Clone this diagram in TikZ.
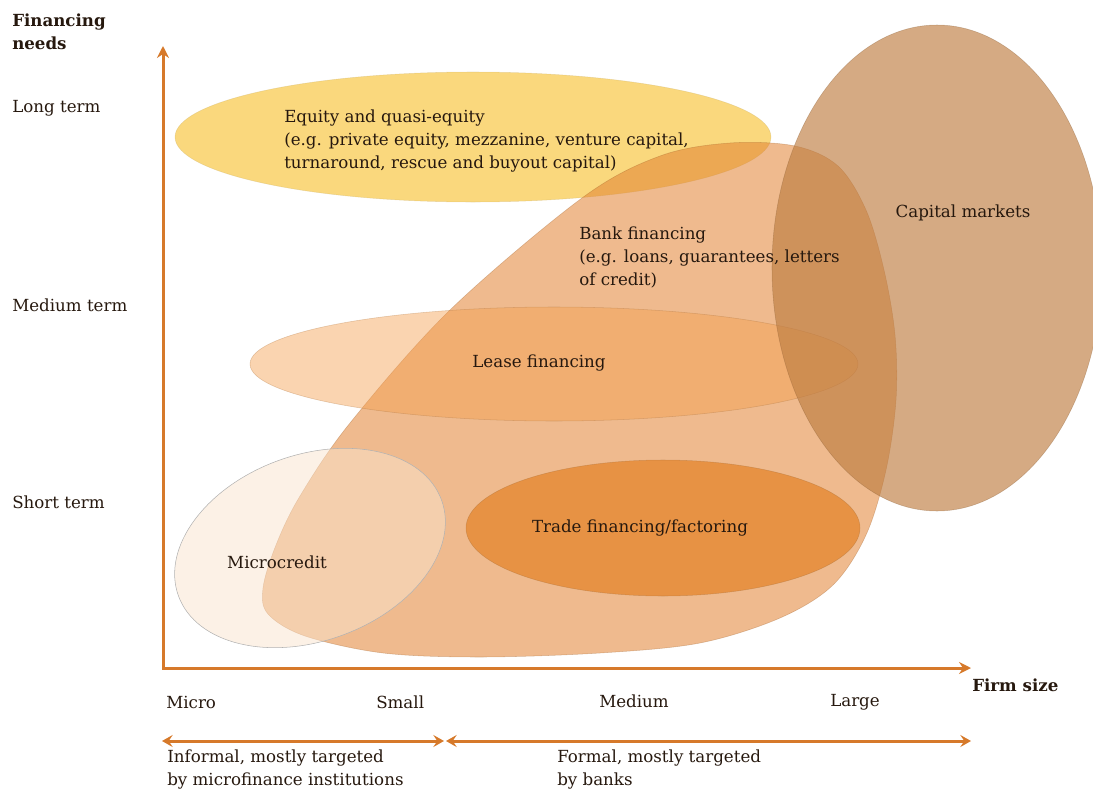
\documentclass[tikz,border=0pt]{standalone}
\usepackage{fontspec}
\setmainfont{DejaVu Serif}
\usetikzlibrary{arrows.meta}
\definecolor{axiscol}{RGB}{214,121,42}
\definecolor{equitycol}{RGB}{250,216,125}
\definecolor{bankcol}{RGB}{225,130,50}
\definecolor{leasecol}{RGB}{245,160,80}
\definecolor{tradecol}{RGB}{231,146,68}
\definecolor{capcol}{RGB}{190,125,65}
\definecolor{microcol}{RGB}{250,228,205}
\definecolor{txtcol}{RGB}{38,24,14}
\tikzset{
  lbl/.style={font=\fontsize{12.5}{17.25}\selectfont, text=txtcol, inner sep=0pt},
  blbl/.style={lbl, font=\fontsize{12.5}{17.25}\selectfont\bfseries},
  axisline/.style={draw=axiscol, line width=2.25pt, {Stealth[length=9pt,width=9pt,inset=3pt]}-{Stealth[length=9pt,width=9pt,inset=3pt]}},
  rangearrow/.style={draw=axiscol, line width=2.25pt, {Stealth[length=8pt,width=9pt,inset=3pt]}-{Stealth[length=8pt,width=9pt,inset=3pt]}},
  edge/.style={line width=0.4pt, draw opacity=0.35},
}
\begin{document}
\begin{tikzpicture}[x=0.75pt,y=-0.75pt]
\useasboundingbox (0,0) rectangle (1093,789);
% shapes
\filldraw[fill=equitycol, draw=equitycol!80!black, edge] (473,137) ellipse [x radius=298, y radius=65];
\filldraw[fill=bankcol, fill opacity=0.55, draw=bankcol!70!black, edge]
  plot[smooth cycle, tension=0.55] coordinates {(730,143) (795,146) (838,166) (866,210) (884,270) (895,335) (896,400) (886,470) (866,535) (833,585) (780,618) (700,643) (600,653) (480,657) (383,653) (305,636) (268,614) (263,588) (276,545) (300,496) (350,423) (450,310) (582,198) (660,156)};
\filldraw[fill=leasecol, fill opacity=0.45, draw=leasecol!70!black, edge] (554,364) ellipse [x radius=304, y radius=57];
\filldraw[fill=tradecol, draw=tradecol!70!black, edge] (663,528) ellipse [x radius=197, y radius=68];
\filldraw[fill=capcol, fill opacity=0.65, draw=capcol!70!black, edge] (937,268) ellipse [x radius=165, y radius=243];
\filldraw[fill=microcol, fill opacity=0.5, draw=black!30, line width=0.4pt, rotate around={20:(310,548)}] (310,548) ellipse [x radius=140, y radius=93];
% axes
\coordinate (ytip) at (163,46);
\coordinate (origin) at (163,668);
\coordinate (xtip) at (971,668);
\draw[axisline] (ytip) -- (origin) -- (xtip);
\coordinate (r1a) at (162,741);
\coordinate (r1b) at (444,741);
\coordinate (r2a) at (446,741);
\coordinate (r2b) at (971,741);
\draw[rangearrow] (r1a) -- (r1b);
\draw[rangearrow] (r2a) -- (r2b);
% labels
\node[blbl, anchor=west, align=left] (fneeds) at (12,32) {Financing\\needs};
\node[lbl, anchor=west] (long) at (12,108) {Long term};
\node[lbl, anchor=west] (medium) at (12,305) {Medium term};
\node[lbl, anchor=west] (short) at (12,502) {Short term};
\node[lbl, anchor=west] (xmicro) at (166,702) {Micro};
\node[lbl, anchor=west] (xsmall) at (376,702) {Small};
\node[lbl, anchor=west] (xmedium) at (599,701) {Medium};
\node[lbl, anchor=west] (xlarge) at (830,702) {Large};
\node[blbl, anchor=west] (fsize) at (972,685) {Firm size};
\node[lbl, anchor=west, align=left] (informal) at (167,770) {Informal, mostly targeted\\by microfinance institutions};
\node[lbl, anchor=west, align=left] (formal) at (557,770) {Formal, mostly targeted\\by banks};
\node[lbl, anchor=west, align=left] (equity) at (284,141) {Equity and quasi-equity\\(e.g. private equity, mezzanine, venture capital,\\turnaround, rescue and buyout capital)};
\node[lbl, anchor=west, align=left] (bank) at (579,257) {Bank financing\\(e.g. loans, guarantees, letters\\of credit)};
\node[lbl] (capital) at (963,213) {Capital markets};
\node[lbl] (lease) at (539,363) {Lease financing};
\node[lbl] (trade) at (640,528) {Trade financing/factoring};
\node[lbl] (micro) at (277,562) {Microcredit};
\end{tikzpicture}
\end{document}
